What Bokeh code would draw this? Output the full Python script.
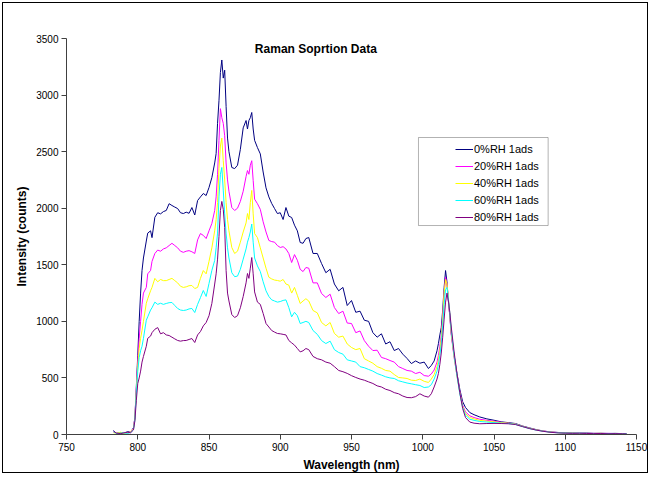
from bokeh.plotting import figure
from bokeh.models import Range1d, FixedTicker, Legend, LegendItem, Label, BoxAnnotation
from bokeh.embed import file_html
from bokeh.resources import INLINE

# Wavelength grid (nm), shared by all series
wavelength = [783, 785, 788, 790, 793, 795, 797,
              798, 799, 800, 801, 802, 803, 804, 806, 807, 809, 810, 812, 814, 816, 818,
              820, 822, 824, 826, 828, 830, 832, 834, 836, 838, 840, 842, 844, 846, 848, 850, 852, 854, 855, 856,
              857, 858, 859, 860, 861, 862, 863, 864,
              866, 868, 870, 872, 874, 876, 877, 878, 879, 880, 881, 882, 884, 886, 888, 890, 892, 894, 896, 898,
              900, 902, 904, 906, 908, 910, 912, 914, 916, 918,
              920, 923, 926, 929, 932, 935, 938, 941, 944, 947, 950, 953, 956, 959, 962, 965, 968, 971, 974, 977,
              980, 983, 986, 989, 992, 995, 998, 1001, 1004,
              1006, 1008, 1010, 1011, 1012, 1013, 1014, 1015, 1016, 1017, 1018, 1019, 1020,
              1022, 1024, 1026, 1028, 1030, 1033, 1036, 1040,
              1045, 1050, 1055, 1060, 1065, 1070, 1075, 1080, 1085, 1090, 1095, 1100,
              1105, 1110, 1115, 1120, 1125, 1130, 1135, 1140, 1143]

rh0 = [35, 10, 15, 12, 25, 20, 60,
       150, 420, 700, 1000, 1250, 1450, 1560, 1710, 1780, 1800, 1740, 1920, 1960, 1950, 1970,
       1980, 2040, 2024, 2010, 1997, 1960, 1953, 1965, 1955, 2006, 1940, 2068, 2100, 2130, 2112, 2183, 2270, 2400, 2483, 2750,
       2950, 3200, 3310, 3150, 3220, 2900, 2620, 2500,
       2360, 2350, 2380, 2520, 2710, 2775, 2700, 2775, 2800, 2846, 2700, 2600, 2536, 2480, 2320, 2180, 2100, 2042, 1997, 1953,
       1960, 1900, 2006, 1930, 1918, 1850, 1800, 1697, 1690, 1732,
       1741, 1600, 1600, 1511, 1430, 1460, 1330, 1270, 1300, 1140, 1184, 1080, 1090, 1010, 1000, 900, 860, 890, 800, 820,
       742, 760, 710, 672, 627, 650, 630, 640, 583,
       610, 650, 740, 804, 880, 946, 1100, 1300, 1449, 1350, 1180, 1050, 893,
       700, 540, 400, 290, 239, 194, 175, 155,
       138, 126, 112, 105, 97, 75, 58, 42, 30, 22, 18, 15,
       14, 12, 13, 10, 11, 9, 10, 8, 8]

rh20 = [20, 15, 10, 18, 12, 25, 55,
        150, 400, 650, 850, 1000, 1150, 1250, 1300, 1420, 1450, 1530, 1600, 1630, 1620, 1640,
        1650, 1670, 1690, 1670, 1650, 1620, 1610, 1620, 1625, 1615, 1600, 1720, 1776, 1760, 1732, 1800, 1865, 1980, 2100, 2300,
        2600, 2880, 2800, 2750, 2640, 2400, 2250, 2150,
        2006, 1980, 2000, 2060, 2150, 2280, 2333, 2300, 2380, 2420, 2245, 2080, 2040, 1990, 1880, 1790, 1715, 1705, 1700, 1670,
        1653, 1660, 1640, 1600, 1520, 1590, 1540, 1460, 1440, 1476,
        1470, 1340, 1340, 1246, 1211, 1240, 1122, 1069, 1090, 985, 981, 900, 915, 830, 780, 742, 745, 681, 670, 654,
        640, 600, 583, 566, 560, 539, 550, 521, 515,
        535, 570, 640, 700, 780, 880, 1050, 1250, 1390, 1330, 1180, 1040, 880,
        680, 520, 380, 260, 200, 165, 150, 135,
        125, 118, 108, 100, 93, 72, 55, 40, 30, 22, 17, 14,
        12, 13, 11, 10, 9, 10, 8, 9, 7]

rh40 = [15, 12, 20, 10, 15, 22, 50,
        140, 380, 600, 760, 850, 920, 1000, 1160, 1200, 1270, 1300, 1380, 1350, 1370, 1360,
        1360, 1370, 1380, 1360, 1340, 1310, 1300, 1305, 1315, 1317, 1290, 1300, 1380, 1449, 1420, 1530, 1650, 1800, 1900, 2050,
        2350, 2550, 2620, 2420, 2250, 2050, 1900, 1800,
        1653, 1600, 1620, 1700, 1790, 1870, 1953, 1900, 2050, 2157, 1950, 1776, 1740, 1650, 1560, 1470, 1390, 1375, 1365, 1361,
        1355, 1370, 1330, 1320, 1250, 1300, 1230, 1158, 1180, 1200,
        1180, 1096, 1075, 990, 960, 990, 893, 860, 870, 800, 769, 750, 760, 670, 650, 630, 600, 585, 566, 560,
        530, 504, 500, 495, 480, 477, 490, 470, 460,
        490, 530, 600, 660, 740, 850, 1020, 1250, 1370, 1330, 1200, 1060, 900,
        690, 520, 370, 250, 185, 150, 138, 125,
        118, 112, 105, 100, 92, 72, 54, 40, 29, 21, 16, 13,
        12, 11, 10, 9, 10, 8, 9, 8, 7]

rh60 = [25, 10, 12, 15, 10, 18, 45,
        130, 360, 560, 680, 740, 780, 850, 1010, 1040, 1100, 1120, 1170, 1150, 1160, 1150,
        1158, 1165, 1167, 1140, 1114, 1100, 1096, 1100, 1110, 1114, 1078, 1150, 1210, 1273, 1220, 1335, 1450, 1538, 1650, 1780,
        2100, 2300, 2360, 2160, 1950, 1780, 1650, 1560,
        1430, 1395, 1400, 1460, 1550, 1640, 1700, 1741, 1790, 1860, 1700, 1560, 1490, 1440, 1350, 1270, 1220, 1190, 1180, 1170,
        1175, 1185, 1190, 1122, 1040, 1080, 1050, 981, 990, 1000,
        990, 919, 885, 830, 804, 825, 750, 725, 710, 660, 650, 640, 600, 590, 575, 560, 539, 525, 510, 500,
        495, 475, 465, 455, 448, 440, 433, 415, 420,
        440, 490, 560, 620, 700, 800, 960, 1150, 1280, 1300, 1200, 1070, 920,
        700, 520, 360, 240, 170, 135, 125, 115,
        110, 105, 100, 97, 90, 70, 52, 38, 28, 20, 15, 13,
        11, 12, 10, 9, 8, 9, 8, 7, 8]

rh80 = [30, 12, 8, 14, 20, 15, 40,
        120, 300, 450, 500, 560, 640, 690, 780, 850, 870, 900, 930, 945, 890, 900,
        880, 875, 860, 845, 831, 825, 830, 831, 840, 848, 813, 880, 910, 960, 990, 1050, 1158, 1330, 1420, 1550,
        1750, 1980, 2060, 1990, 1830, 1450, 1250, 1180,
        1060, 1034, 1050, 1120, 1220, 1340, 1423, 1380, 1470, 1564, 1420, 1260, 1170, 1150, 1070, 981, 950, 919, 905, 893,
        890, 885, 880, 831, 810, 790, 760, 730, 740, 760,
        750, 690, 670, 660, 640, 630, 600, 566, 555, 540, 520, 504, 490, 480, 465, 451, 430, 420, 400, 389,
        370, 360, 340, 327, 325, 335, 360, 340, 330,
        360, 420, 490, 540, 620, 720, 860, 1020, 1170, 1250, 1180, 1080, 950,
        730, 540, 370, 230, 150, 110, 100, 95,
        97, 98, 97, 95, 88, 70, 52, 38, 27, 19, 14, 12,
        10, 11, 9, 8, 9, 7, 8, 7, 6]

series_names = ["0%RH 1ads", "20%RH 1ads", "40%RH 1ads", "60%RH 1ads", "80%RH 1ads"]
series_values = [rh0, rh20, rh40, rh60, rh80]
series_colors = ["#000080", "#FF00FF", "#FFFF00", "#00FFFF", "#800080"]

x_ticks = [750, 800, 850, 900, 950, 1000, 1050, 1100, 1150]
y_ticks = [0, 500, 1000, 1500, 2000, 2500, 3000, 3500]

FONT = "Liberation Sans"

# outer chart-area border drawn with CSS; inner size reduced so the whole fits 652x477
p = figure(width=646, height=471, output_backend="svg", toolbar_location=None,
           x_range=Range1d(750, 1150), y_range=Range1d(0, 3500),
           min_border_left=63, min_border_right=13, min_border_top=35, min_border_bottom=40)
p.styles = {"border": "1px solid black", "margin-left": "2px", "margin-top": "2px"}
p.outline_line_color = None
p.background_fill_color = "white"
p.border_fill_color = "white"
p.xgrid.visible = False
p.ygrid.visible = False

for ax in (p.xaxis[0], p.yaxis[0]):
    ax.minor_tick_line_color = None
    ax.major_tick_in = 0
    ax.major_tick_out = 5
    ax.axis_line_color = "#404040"
    ax.major_tick_line_color = "#404040"
    ax.major_label_text_font = FONT
    ax.major_label_text_font_size = "10px"
    ax.major_label_text_color = "black"
    ax.major_label_standoff = 3
    ax.axis_label_text_font = FONT
    ax.axis_label_text_font_size = "12px"
    ax.axis_label_text_font_style = "bold"
    ax.axis_label_text_color = "black"
    ax.axis_label_standoff = 4

p.xaxis.ticker = FixedTicker(ticks=x_ticks)
p.yaxis.ticker = FixedTicker(ticks=y_ticks)
p.xaxis.axis_label = "Wavelength (nm)"
p.yaxis.axis_label = "Intensity (counts)"

n = min(len(wavelength), *[len(v) for v in series_values])
renderers = []
for name, vals, col in zip(series_names, series_values, series_colors):
    r = p.line(wavelength[:n], vals[:n], line_color=col, line_width=1)
    renderers.append(r)

title = Label(x=925, y=3409, text="Raman Soprtion Data", text_align="center",
              text_baseline="middle", text_font=FONT, text_font_size="12px",
              text_font_style="bold", text_color="black")
p.add_layout(title)

legend_box = BoxAnnotation(left=997, right=1088, top=2625, bottom=1847,
                           fill_color="white", fill_alpha=1.0,
                           line_color="black", line_width=1)
p.add_layout(legend_box)

legend = Legend(items=[LegendItem(label=nm, renderers=[r]) for nm, r in zip(series_names, renderers)],
                location=(389, 209), glyph_width=18, glyph_height=16, label_height=16,
                spacing=1, padding=2, label_standoff=1, margin=0,
                label_text_font=FONT, label_text_font_size="11px", label_text_color="black",
                border_line_color=None, background_fill_alpha=0)
p.add_layout(legend)

open("out.html", "w").write(file_html(p, INLINE))
